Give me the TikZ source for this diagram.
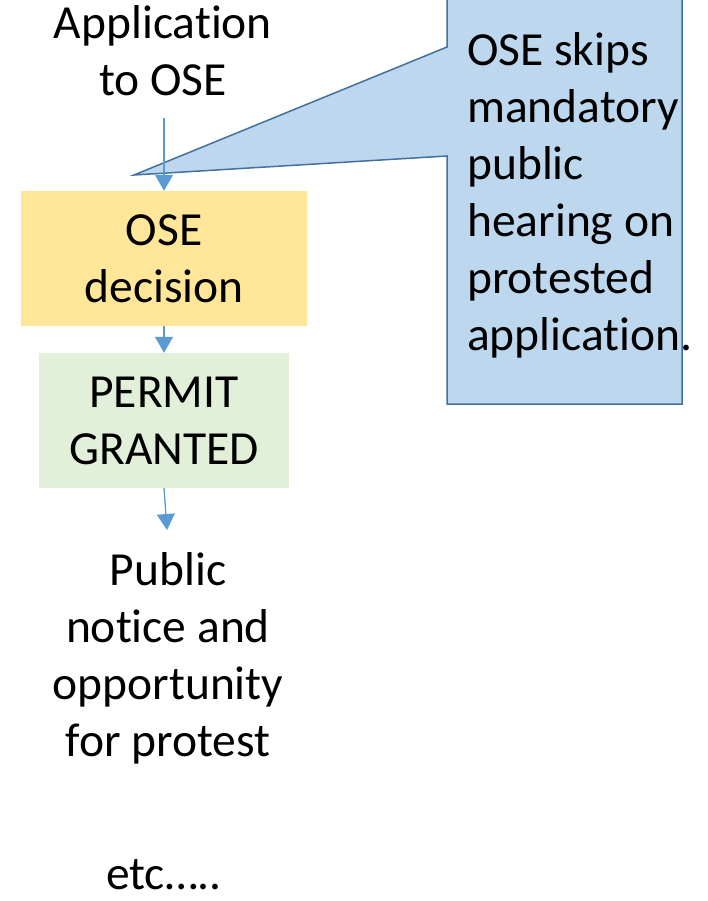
\documentclass[tikz,border=0pt]{standalone}
\usepackage{fontspec}
\setmainfont[RawFeature={-liga;-clig;-dlig}]{Carlito}
\usetikzlibrary{arrows.meta}
\definecolor{arrblue}{HTML}{5B9BD5}
\definecolor{callfill}{HTML}{BDD7EE}
\definecolor{calldraw}{HTML}{41719C}
\definecolor{decfill}{HTML}{FFE699}
\definecolor{permfill}{HTML}{E2F0D9}
\tikzset{
  txt/.style={inner sep=0pt, align=center, font=\fontsize{47.5}{57}\selectfont},
  boxnode/.style={txt, minimum height=135pt},
  arr/.style={draw=arrblue, line width=1.3pt, -{Triangle[length=16pt,width=18pt]}},
}
\begin{document}
\begin{tikzpicture}[x=1pt,y=-1pt]
\useasboundingbox (0,0) rectangle (708,901);
\clip (0,0) rectangle (708,901);
% callout
\coordinate (tip) at (134,175);
\filldraw[fill=callfill, draw=calldraw, line width=1.5pt, line join=miter]
  (447,-20) -- (447,47) -- (tip) -- (447,156) -- (447,404) -- (682,404) -- (682,-20) -- cycle;
\node[txt, align=left, anchor=west] (note) at (467,195)
  {OSE skips\\mandatory\\public\\hearing on\\protested\\application.};
% flow
\node[txt] (app) at (163,51) {Application\\to OSE};
\node[boxnode, fill=decfill, minimum width=286pt] (dec) at (164,258.5) {OSE\\decision};
\node[boxnode, fill=permfill, minimum width=250pt] (perm) at (164,420.5) {PERMIT\\GRANTED};
\node[txt] (pub) at (168,658) {Public\\notice and\\opportunity\\for protest};
\node[txt, anchor=base] (etc) at (164,889) {etc…..};
\coordinate (a1) at (164,118);
\coordinate (a3) at (167,530);
\draw[arr] (a1) -- (dec.north);
\draw[arr] (dec.south) -- (perm.north);
\draw[arr] (perm.south) -- (a3);
\end{tikzpicture}
\end{document}
